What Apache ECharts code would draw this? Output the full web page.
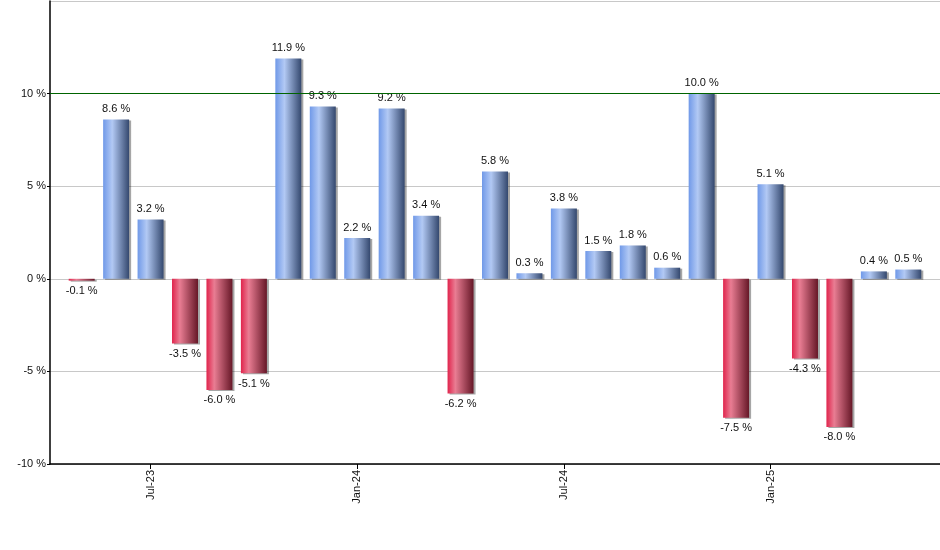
<!DOCTYPE html>
<html>
<head>
<meta charset="utf-8">
<script src="https://cdn.jsdelivr.net/npm/echarts@6/dist/echarts.min.js"></script>
<style>
html,body{margin:0;padding:0;background:#fff}
#main{width:940px;height:550px}
</style>
</head>
<body>
<div id="main"></div>
<script>
// monthly returns, May-23 .. May-25
const months=['May-23','Jun-23','Jul-23','Aug-23','Sep-23','Oct-23','Nov-23','Dec-23','Jan-24','Feb-24','Mar-24','Apr-24','May-24','Jun-24','Jul-24','Aug-24','Sep-24','Oct-24','Nov-24','Dec-24','Jan-25','Feb-25','Mar-25','Apr-25','May-25']
const returns=[-0.1,8.6,3.2,-3.5,-6.0,-5.1,11.9,9.3,2.2,9.2,3.4,-6.2,5.8,0.3,3.8,1.5,1.8,0.6,10.0,-7.5,5.1,-4.3,-8.0,0.4,0.5]
const tickMonths=[2,8,14,20]
const yTicks=[-10,-5,0,5,10,15]
const refLine=[10]

const chartDom=document.getElementById('main')
let myChart=echarts.init(chartDom)

const blue={type:'linear',x:0,y:0,x2:1,y2:0,colorStops:[
    {offset:0,color:'#7099e8'},
    {offset:0.35,color:'#b2c9f4'},
    {offset:1,color:'#34486e'}
]}
const red={type:'linear',x:0,y:0,x2:1,y2:0,colorStops:[
    {offset:0,color:'#e0244c'},
    {offset:0.3,color:'#e97d93'},
    {offset:1,color:'#661727'}
]}

const font='"Liberation Sans", Arial, sans-serif'

let option={
    backgroundColor:'#fff',
    animation:false,
    grid:{left:50,right:0,top:1,bottom:86},
    xAxis:{
        type:'value',
        min:-0.92,
        max:24.92,
        splitLine:{show:false},
        axisLine:{show:true,onZero:false,lineStyle:{color:'#000',width:1.5}},
        axisTick:{show:true,length:5,customValues:tickMonths,lineStyle:{color:'#000'}},
        axisLabel:{
            customValues:tickMonths,
            rotate:90,
            margin:6,
            color:'#111',
            fontSize:11,
            fontFamily:font,
            formatter:v=>months[Math.round(v)]
        }
    },
    yAxis:{
        type:'value',
        min:yTicks[0],
        max:yTicks[yTicks.length-1],
        interval:5,
        axisLine:{show:true,onZero:false,lineStyle:{color:'#000',width:1.5}},
        axisTick:{show:true,length:3,lineStyle:{color:'#000'}},
        splitLine:{lineStyle:{color:'#c8c8c8',width:1}},
        axisLabel:{
            showMaxLabel:false,
            margin:4,
            color:'#111',
            fontSize:11,
            fontFamily:font,
            formatter:'{value} %'
        }
    },
    series:[{
        type:'bar',
        barWidth:26,
        data:returns.map((v,i)=>({
            value:[i,v],
            itemStyle:{color:v<0?red:blue},
            label:{position:v<0?'bottom':'top'}
        })),
        itemStyle:{shadowColor:'rgba(0,0,0,0.35)',shadowOffsetX:2,shadowOffsetY:1,shadowBlur:0},
        label:{
            show:true,
            distance:5,
            color:'#111',
            fontSize:11,
            fontFamily:font,
            formatter:p=>p.value[1].toFixed(1)+' %'
        },
        markLine:{
            silent:true,
            symbol:'none',
            label:{show:false},
            lineStyle:{color:'#006400',type:'solid',width:1},
            data:refLine.map(v=>({yAxis:v}))
        }
    }]
}

option && myChart.setOption(option);
</script>
</body>
</html>
